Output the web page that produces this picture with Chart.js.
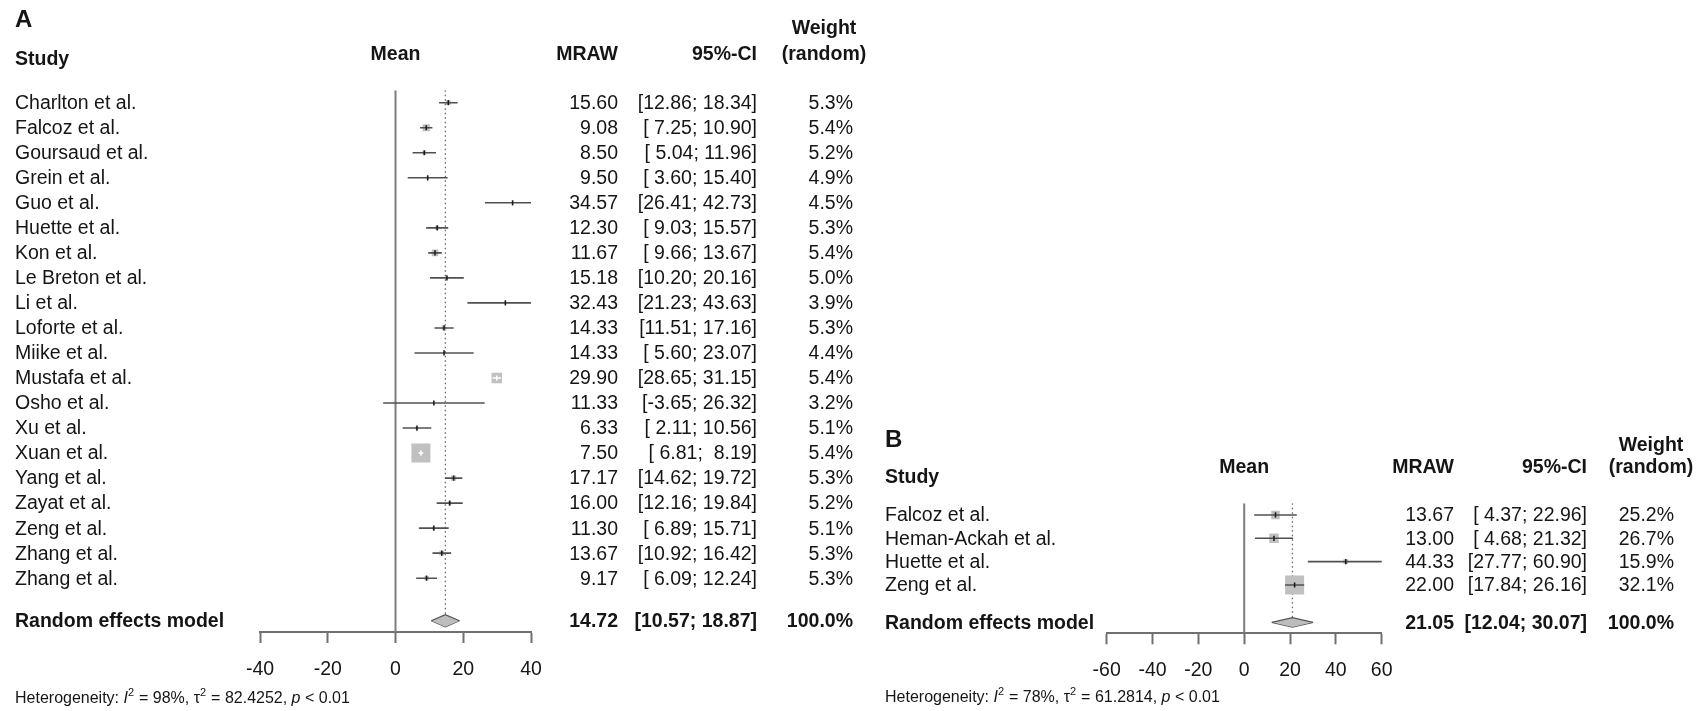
<!DOCTYPE html>
<html>
<head>
<meta charset="utf-8">
<script src="https://cdn.jsdelivr.net/npm/chart.js@4.4.1/dist/chart.umd.min.js"></script>
<style>
  html, body { margin: 0; padding: 0; background: #ffffff; }
  #wrap { position: relative; width: 1703px; height: 711px; overflow: hidden; background: #ffffff; }
  canvas { position: absolute; top: 0; }
  #cA { left: 0; }
  #cB { left: 870px; }
</style>
</head>
<body>
<div id="wrap">
  <canvas id="cA" width="870" height="711"></canvas>
  <canvas id="cB" width="833" height="711"></canvas>
</div>
<script>
// ---- Panel A: studies, raw means and 95% confidence limits ----
const studiesA = ["Charlton et al.", "Falcoz et al.", "Goursaud et al.", "Grein et al.", "Guo et al.",
  "Huette et al.", "Kon et al.", "Le Breton et al.", "Li et al.", "Loforte et al.", "Miike et al.",
  "Mustafa et al.", "Osho et al.", "Xu et al.", "Xuan et al.", "Yang et al.", "Zayat et al.",
  "Zeng et al.", "Zhang et al.", "Zhang et al."];
const meanA  = [15.60, 9.08, 8.50, 9.50, 34.57, 12.30, 11.67, 15.18, 32.43, 14.33, 14.33, 29.90, 11.33, 6.33, 7.50, 17.17, 16.00, 11.30, 13.67, 9.17];
const lowerA = [12.86, 7.25, 5.04, 3.60, 26.41, 9.03, 9.66, 10.20, 21.23, 11.51, 5.60, 28.65, -3.65, 2.11, 6.81, 14.62, 12.16, 6.89, 10.92, 6.09];
const upperA = [18.34, 10.90, 11.96, 15.40, 42.73, 15.57, 13.67, 20.16, 43.63, 17.16, 23.07, 31.15, 26.32, 10.56, 8.19, 19.72, 19.84, 15.71, 16.42, 12.24];
const weightA = [5.3, 5.4, 5.2, 4.9, 4.5, 5.3, 5.4, 5.0, 3.9, 5.3, 4.4, 5.4, 3.2, 5.1, 5.4, 5.3, 5.2, 5.1, 5.3, 5.3];
const pooledA = [14.72, 10.57, 18.87];          // estimate, lower, upper
const ticksA = [-40, -20, 0, 20, 40];
const hetA = ["98%", "82.4252", "0.01"];         // I², tau², p bound

// ---- Panel B ----
const studiesB = ["Falcoz et al.", "Heman-Ackah et al.", "Huette et al.", "Zeng et al."];
const meanB  = [13.67, 13.00, 44.33, 22.00];
const lowerB = [4.37, 4.68, 27.77, 17.84];
const upperB = [22.96, 21.32, 60.90, 26.16];
const weightB = [25.2, 26.7, 15.9, 32.1];
const pooledB = [21.05, 12.04, 30.07];
const ticksB = [-60, -40, -20, 0, 20, 40, 60];
const hetB = ["78%", "61.2814", "0.01"];

const FONT = "'Liberation Sans', Arial, Helvetica, sans-serif";
const INK = "#151515";
const TXT = 19.5;

function padNum(v) { return (v >= 0 && v < 10 ? " " : "") + v.toFixed(2); }
function ciText(lo, hi) { return "[" + padNum(lo) + "; " + padNum(hi) + "]"; }

function buildPanel(canvasId, P) {
  const ranges = P.upper.map((u, i) => u - P.lower[i]);
  const minRange = Math.min(...ranges);
  // square side shrinks with interval width; the narrowest interval gets the largest square
  const side = ranges.map(r => P.maxSide * minRange / r);
  const insideAt = (chart, i) => {
    const xs = chart.scales.x;
    return Math.abs(xs.getPixelForValue(P.upper[i]) - xs.getPixelForValue(P.lower[i])) < side[i];
  };

  const datasets = [];
  // line of no effect
  datasets.push({ type: "line", showLine: true, data: [{ x: 0, y: -0.5 }, { x: 0, y: P.yMax }],
    borderColor: "#7c7c7c", borderWidth: 2, pointRadius: 0, order: 20 });
  // dotted reference at the pooled estimate
  datasets.push({ type: "line", showLine: true,
    data: [{ x: P.pooled[0], y: -0.5 }, { x: P.pooled[0], y: P.reRow - P.dh }],
    borderColor: "#666666", borderWidth: 1.3, borderDash: [1.5, 3], pointRadius: 0, order: 19 });
  // study squares
  datasets.push({ type: "scatter", data: P.mean.map((m, i) => ({ x: m, y: i })),
    pointStyle: "rect", pointRadius: side.map(s => s / Math.SQRT2), backgroundColor: "#c0c0c0",
    borderWidth: 0, order: 15 });
  // confidence intervals
  P.mean.forEach((m, i) => {
    datasets.push({ type: "line", showLine: true,
      data: [{ x: P.lower[i], y: i }, { x: P.upper[i], y: i }],
      borderColor: c => insideAt(c.chart, i) ? "#ffffff" : "#505050",
      borderWidth: 1.6, pointRadius: 0, order: 10 });
  });
  // estimate tick
  datasets.push({ type: "scatter", data: P.mean.map((m, i) => ({ x: m, y: i })),
    pointStyle: "line", rotation: 90, pointRadius: 2.6, borderWidth: 1.6,
    borderColor: c => insideAt(c.chart, c.dataIndex) ? "#ffffff" : "#1e1e1e", order: 5 });
  // pooled diamond (upper half filled down to lower half)
  datasets.push({ type: "line", showLine: true,
    data: [{ x: P.pooled[1], y: P.reRow }, { x: P.pooled[0], y: P.reRow - P.dh }, { x: P.pooled[2], y: P.reRow }],
    fill: "+1", backgroundColor: "#bdbdbd", borderColor: "#555555", borderWidth: 1.3, pointRadius: 0, order: 2 });
  datasets.push({ type: "line", showLine: true,
    data: [{ x: P.pooled[1], y: P.reRow }, { x: P.pooled[0], y: P.reRow + P.dh }, { x: P.pooled[2], y: P.reRow }],
    fill: false, borderColor: "#555555", borderWidth: 1.3, pointRadius: 0, order: 2 });

  const C = P.cols;
  const textPlugin = {
    id: "forestText",
    afterDraw(chart) {
      const ctx = chart.ctx, ys = chart.scales.y, area = chart.chartArea;
      ctx.save();
      ctx.fillStyle = INK;
      ctx.textBaseline = "middle";
      const put = (txt, x, y, align, bold, size) => {
        ctx.font = (bold ? "bold " : "") + (size || TXT) + "px " + FONT;
        ctx.textAlign = align;
        ctx.fillText(txt, x, y);
      };
      put(P.panel, C.name, P.panelY, "left", true, 24);
      put("Study", C.name, P.studyY, "left", true);
      put("Mean", (area.left + area.right) / 2, P.headY, "center", true);
      put("MRAW", C.mean, P.headY, "right", true);
      put("95%-CI", C.ci, P.headY, "right", true);
      put("Weight", C.wHead, P.weightY, "center", true);
      put("(random)", C.wHead, P.headY, "center", true);

      P.studies.forEach((s, i) => {
        const y = ys.getPixelForValue(i) + 1;
        put(s, C.name, y, "left", false);
        put(P.mean[i].toFixed(2), C.mean, y, "right", false);
        put(ciText(P.lower[i], P.upper[i]), C.ci, y, "right", false);
        put(P.weight[i].toFixed(1) + "%", C.w, y, "right", false);
      });

      const yr = ys.getPixelForValue(P.reRow) + 1;
      put("Random effects model", C.name, yr, "left", true);
      put(P.pooled[0].toFixed(2), C.mean, yr, "right", true);
      put(ciText(P.pooled[1], P.pooled[2]), C.ci, yr, "right", true);
      put("100.0%", C.w, yr, "right", true);

      // heterogeneity line with italic symbols and superscripts
      const segs = [
        { t: "Heterogeneity: " }, { t: "I", it: true }, { t: "2", sup: true },
        { t: " = " + P.het[0] + ", " }, { t: "\u03C4" }, { t: "2", sup: true },
        { t: " = " + P.het[1] + ", " }, { t: "p", it: true }, { t: " < " + P.het[2] }
      ];
      let x = C.name;
      ctx.textAlign = "left";
      ctx.textBaseline = "alphabetic";
      const base = P.hetY + 6;
      segs.forEach(sg => {
        const size = sg.sup ? 11 : 16;
        ctx.font = (sg.it ? "italic " : "") + size + "px " + FONT;
        ctx.fillText(sg.t, x, sg.sup ? base - 7 : base);
        x += ctx.measureText(sg.t).width + (sg.sup ? 0.5 : 0);
      });
      ctx.restore();
    }
  };

  return new Chart(document.getElementById(canvasId), {
    type: "scatter",
    data: { datasets },
    plugins: [textPlugin],
    options: {
      responsive: false,
      animation: false,
      events: [],
      layout: { padding: { left: P.padL, right: P.padR, top: P.padT, bottom: 0 } },
      plugins: { legend: { display: false }, tooltip: { enabled: false } },
      scales: {
        x: {
          type: "linear", position: "bottom", min: P.ticks[0], max: P.ticks[P.ticks.length - 1],
          afterBuildTicks: s => { s.ticks = P.ticks.map(v => ({ value: v })); },
          afterFit: s => { s.height = P.axisH; },
          grid: { drawOnChartArea: false, drawTicks: true, tickLength: 11, tickWidth: 2, tickColor: "#707070" },
          border: { display: true, color: "#707070", width: 2 },
          ticks: { font: { size: 19.5, family: FONT }, color: INK, padding: 15, maxRotation: 0, autoSkip: false }
        },
        y: { type: "linear", display: false, reverse: true, min: -0.5, max: P.yMax }
      }
    }
  });
}

buildPanel("cA", {
  panel: "A", studies: studiesA, mean: meanA, lower: lowerA, upper: upperA, weight: weightA,
  pooled: pooledA, ticks: ticksA, het: hetA,
  maxSide: 19, yMax: 21.15, reRow: 20.7, dh: 0.24,
  padL: 260, padR: 870 - 531, padT: 90.2, axisH: 711 - 632,
  panelY: 20, studyY: 60, headY: 55, weightY: 29, hetY: 697,
  cols: { name: 15, mean: 618, ci: 757, w: 853, wHead: 824 }
});

buildPanel("cB", {
  panel: "B", studies: studiesB, mean: meanB, lower: lowerB, upper: upperB, weight: weightB,
  pooled: pooledB, ticks: ticksB, het: hetB,
  maxSide: 19, yMax: 5.07, reRow: 4.6, dh: 0.2,
  padL: 236.7, padR: 833 - 511.7, padT: 503.3, axisH: 711 - 633.3,
  panelY: 440, studyY: 478, headY: 468, weightY: 446, hetY: 696,
  cols: { name: 15, mean: 584, ci: 717, w: 804, wHead: 781 }
});
</script>
</body>
</html>
